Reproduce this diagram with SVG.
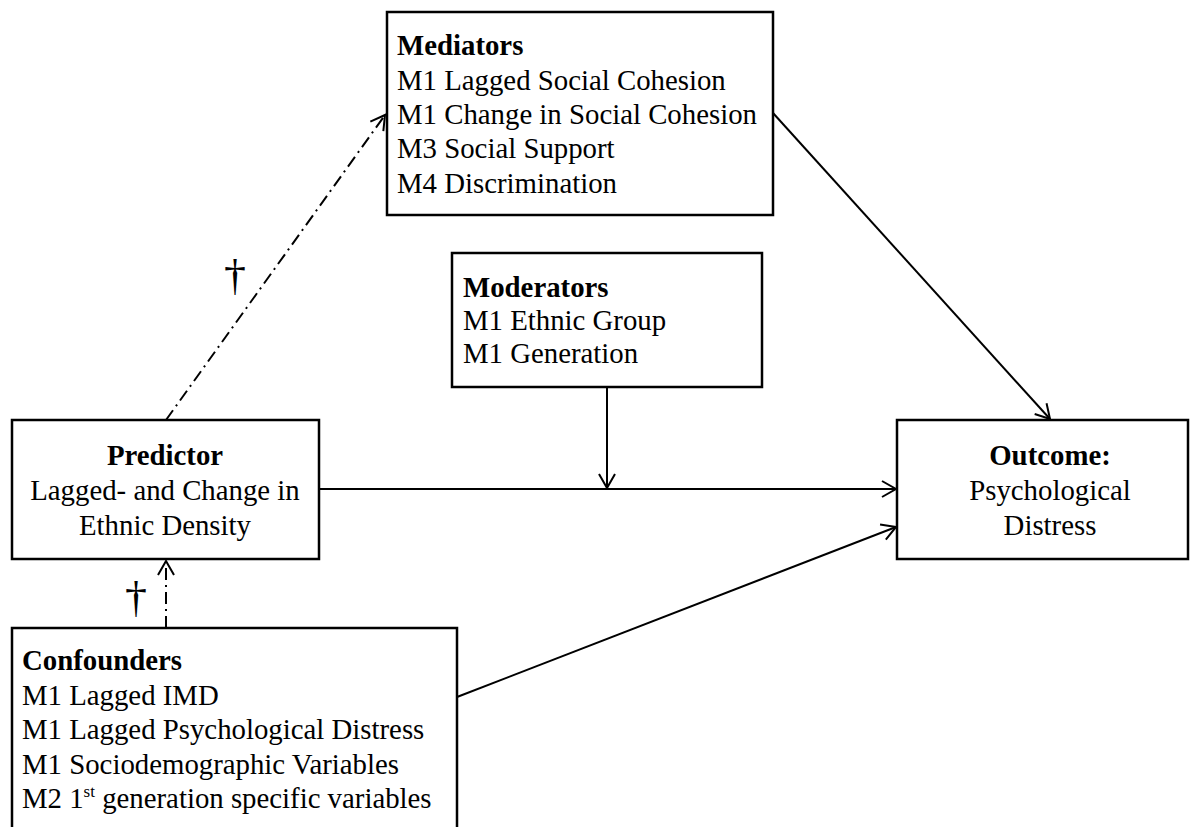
<svg xmlns="http://www.w3.org/2000/svg" width="1200" height="827" viewBox="0 0 1200 827">
<style>
.box{fill:#fff;stroke:#000;stroke-width:2.5}
text{font-family:"Liberation Serif","Times New Roman",serif;font-size:28.8px;fill:#000}
.b{font-weight:bold}
.c{text-anchor:middle}
.ln{stroke:#000;stroke-width:2;fill:none}
.dd{stroke-dasharray:12 5 2 5}
.dag{font-size:44px}
</style>
<defs>
<marker id="arr" markerUnits="userSpaceOnUse" markerWidth="20" markerHeight="20" viewBox="0 0 20 20" refX="18" refY="10" orient="auto">
<path d="M4,2 L18,10 L4,18" fill="none" stroke="#000" stroke-width="2"/>
</marker>
</defs>
<rect width="1200" height="827" fill="#fff"/>
<g id="connectors">
<line class="ln dd" x1="166" y1="420" x2="385" y2="115" marker-end="url(#arr)"/>
<line class="ln dd" x1="166" y1="628" x2="166" y2="561" marker-end="url(#arr)"/>
<line class="ln" x1="319" y1="489" x2="896" y2="489" marker-end="url(#arr)"/>
<line class="ln" x1="607" y1="387" x2="607" y2="488" marker-end="url(#arr)"/>
<line class="ln" x1="773" y1="113" x2="1050" y2="419" marker-end="url(#arr)"/>
<line class="ln" x1="457" y1="697" x2="896" y2="527" marker-end="url(#arr)"/>
<text class="dag" x="235" y="290" text-anchor="middle">†</text>
<text class="dag" x="136" y="612" text-anchor="middle">†</text>
</g>
<g id="mediators">
<rect class="box" x="387" y="12" width="386" height="203"/>
<text class="b" x="397" y="55">Mediators</text>
<text x="397" y="90">M1 Lagged Social Cohesion</text>
<text x="397" y="124">M1 Change in Social Cohesion</text>
<text x="397" y="158">M3 Social Support</text>
<text x="397" y="193">M4 Discrimination</text>
</g>
<g id="moderators">
<rect class="box" x="452" y="253" width="310" height="134"/>
<text class="b" x="463" y="297">Moderators</text>
<text x="463" y="330">M1 Ethnic Group</text>
<text x="463" y="363">M1 Generation</text>
</g>
<g id="predictor">
<rect class="box" x="12" y="420" width="307" height="139"/>
<text class="b c" x="165" y="465">Predictor</text>
<text class="c" x="165" y="500">Lagged- and Change in</text>
<text class="c" x="165" y="535">Ethnic Density</text>
</g>
<g id="outcome">
<rect class="box" x="897" y="420" width="291" height="139"/>
<text class="b c" x="1050" y="465">Outcome:</text>
<text class="c" x="1050" y="500">Psychological</text>
<text class="c" x="1050" y="535">Distress</text>
</g>
<g id="confounders">
<rect class="box" x="12" y="628" width="445" height="220"/>
<text class="b" x="22" y="670">Confounders</text>
<text x="22" y="705">M1 Lagged IMD</text>
<text x="22" y="739">M1 Lagged Psychological Distress</text>
<text x="22" y="774">M1 Sociodemographic Variables</text>
<text x="22" y="808">M2 1<tspan font-size="17" dy="-11">st</tspan><tspan dy="11"> generation specific variables</tspan></text>
</g>
</svg>
